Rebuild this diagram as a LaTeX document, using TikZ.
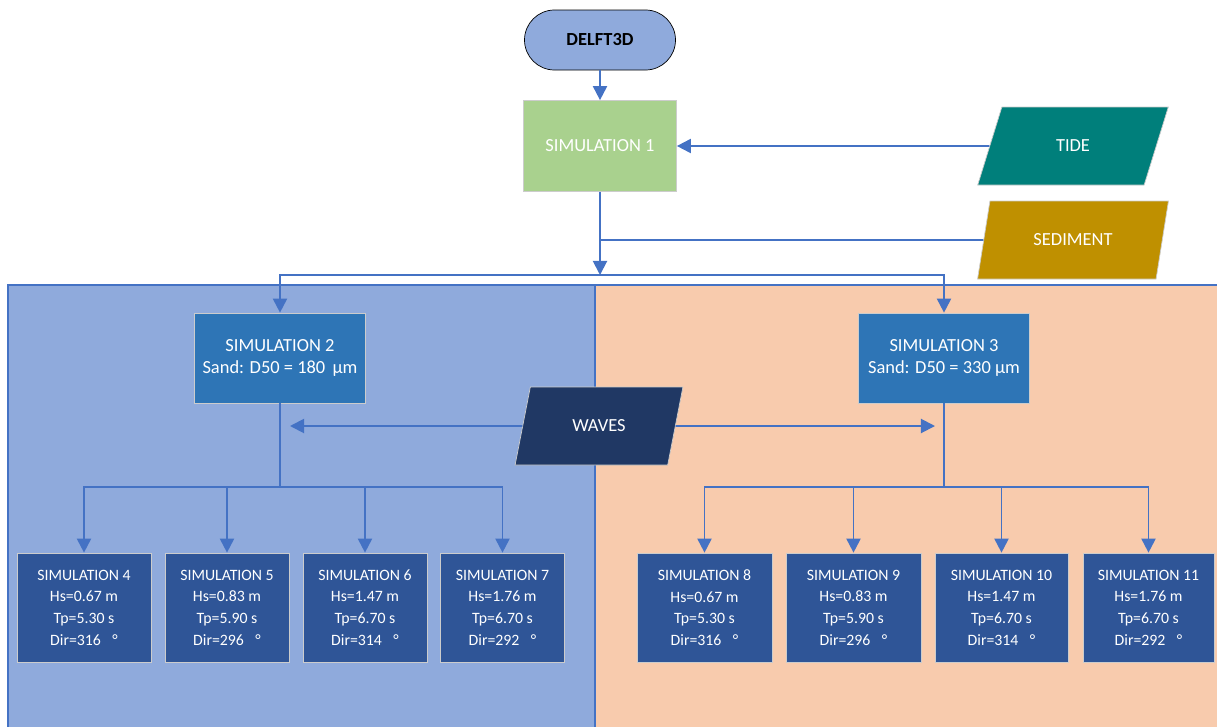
\documentclass[tikz,border=0pt]{standalone}
\usepackage{fontspec}
\setmainfont{Carlito}
\usetikzlibrary{shapes.geometric,arrows.meta,calc}
\definecolor{trait}{HTML}{4472C4}
\definecolor{fondgauche}{HTML}{8FAADC}
\definecolor{fonddroite}{HTML}{F8CBAD}
\definecolor{vert}{HTML}{A9D18E}
\definecolor{maree}{HTML}{007F7B}
\definecolor{sable}{HTML}{BF9000}
\definecolor{moyen}{HTML}{2E75B6}
\definecolor{fonce}{HTML}{203864}
\definecolor{bas}{HTML}{2F5597}
\tikzstyle{lien} = [draw=trait, line width=1.1pt]
\tikzstyle{fleche} = [lien, -{Triangle[width=8pt,length=8pt]}]
\tikzstyle{boite} = [rectangle, draw=gray!40, text=white, align=center, inner sep=1pt, font=\fontsize{10.5}{12.5}\selectfont]
\tikzstyle{petite} = [boite, fill=bas, minimum height=2.18cm, minimum width=2.48cm, font=\fontsize{9}{12.3}\selectfont]
\tikzstyle{entree} = [trapezium, trapezium left angle=64, trapezium right angle=116, trapezium stretches=true, draw=gray!40, text=white, minimum height=1.56cm, inner sep=0pt, font=\fontsize{10.5}{12.5}\selectfont]

\begin{document}
\begin{tikzpicture}
        \useasboundingbox (0,0) rectangle (24.34,-14.52);

        %% panels
        \fill[fondgauche] (0.16,-5.7) rectangle (11.9,-14.6);
        \fill[fonddroite] (11.9,-5.7) rectangle (24.4,-14.6);
        \draw[trait, line width=0.8pt] (0.16,-14.6) -- (0.16,-5.7) -- (24.4,-5.7);
        \draw[trait, line width=0.8pt] (11.9,-5.7) -- (11.9,-14.6);

        %% entities
        \node (D) [rectangle, rounded corners=0.6cm, draw=black, fill=fondgauche, minimum width=3.02cm, minimum height=1.2cm, font=\fontsize{10.5}{12.5}\selectfont\bfseries] at (12,-0.8) {DELFT3D};
        \node (S1) [boite, fill=vert, minimum width=3.06cm, minimum height=1.82cm] at (12,-2.92) {SIMULATION 1};
        \node (T) [entree, fill=maree, minimum width=3.82cm] at (21.46,-2.92) {TIDE};
        \node (SED) [entree, fill=sable, minimum width=3.82cm] at (21.46,-4.8) {SEDIMENT};

        \node (S2) [boite, fill=moyen, minimum width=3.42cm, minimum height=1.8cm] at (5.6,-7.16) {SIMULATION 2\\Sand: D50 = 180 \,µm};
        \node (S3) [boite, fill=moyen, minimum width=3.42cm, minimum height=1.8cm] at (18.88,-7.16) {SIMULATION 3\\Sand: D50 = 330 µm};
        \node (W) [entree, fill=fonce, minimum width=3.36cm] at (11.98,-8.52) {WAVES};

        \node (S4) [petite, minimum width=2.68cm] at (1.68,-12.15) {SIMULATION 4\\Hs=0.67 m\\Tp=5.30 s\\Dir=316 \enspace°};
        \node (S5) [petite] at (4.54,-12.15) {SIMULATION 5\\Hs=0.83 m\\Tp=5.90 s\\Dir=296 \enspace°};
        \node (S6) [petite] at (7.3,-12.15) {SIMULATION 6\\Hs=1.47 m\\Tp=6.70 s\\Dir=314 \enspace°};
        \node (S7) [petite] at (10.05,-12.15) {SIMULATION 7\\Hs=1.76 m\\Tp=6.70 s\\Dir=292 \enspace°};

        \node (S8) [petite, minimum width=2.7cm] at (14.09,-12.15) {SIMULATION 8\\Hs=0.67 m\\Tp=5.30 s\\Dir=316 \enspace°};
        \node (S9) [petite, minimum width=2.7cm] at (17.07,-12.15) {SIMULATION 9\\Hs=0.83 m\\Tp=5.90 s\\Dir=296 \enspace°};
        \node (S10) [petite, minimum width=2.66cm] at (20.03,-12.15) {SIMULATION 10\\Hs=1.47 m\\Tp=6.70 s\\Dir=314 \enspace°};
        \node (S11) [petite, minimum width=2.62cm] at (22.97,-12.15) {SIMULATION 11\\Hs=1.76 m\\Tp=6.70 s\\Dir=292 \enspace°};

        %% junctions
        \coordinate (J1) at (S1 |- SED);
        \coordinate (J2) at (12,-5.5);
        \coordinate (WG) at ($(S2.south |- W) + (0.2,0)$);
        \coordinate (WD) at ($(S3.south |- W) + (-0.18,0)$);
        \coordinate (B2) at ($(S2.south) + (0,-1.68)$);
        \coordinate (B3) at ($(S3.south) + (0,-1.68)$);

        %% relations
        \draw[fleche] (D) -- (S1);
        \draw[fleche] (T.west) -- (S1.east);
        \draw[lien] (SED.west) -- (J1);
        \draw[fleche] (S1) -- (J2);
        \draw[fleche] (J2) -| (S2.north);
        \draw[fleche] (J2) -| (S3.north);

        \draw[fleche] (W.west) -- (WG);
        \draw[fleche] (W.east) -- (WD);

        \draw[lien] (S2) -- (B2);
        \draw[fleche] (B2) -| (S4.north);
        \draw[fleche] (B2) -| (S5.north);
        \draw[fleche] (B2) -| (S6.north);
        \draw[fleche] (B2) -| (S7.north);

        \draw[lien] (S3) -- (B3);
        \draw[fleche] (B3) -| (S8.north);
        \draw[fleche] (B3) -| (S9.north);
        \draw[fleche] (B3) -| (S10.north);
        \draw[fleche] (B3) -| (S11.north);

    \end{tikzpicture}
\end{document}
